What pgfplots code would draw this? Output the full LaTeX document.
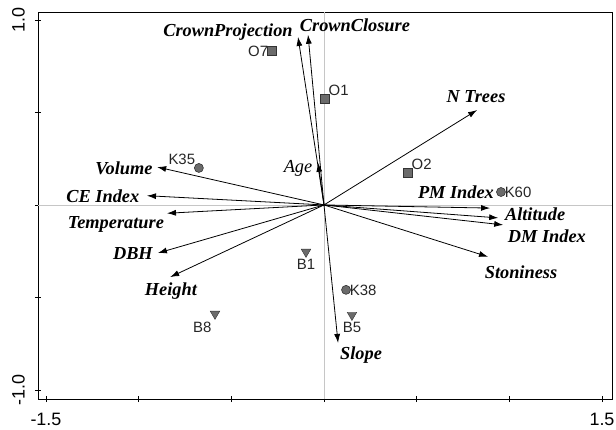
\documentclass[border=0pt]{standalone}
\usepackage{fontspec}
\setmainfont{Liberation Sans}
\newfontfamily\serifbi{Liberation Serif}
\usepackage{pgfplots}
\pgfplotsset{compat=1.18}
\usetikzlibrary{arrows.meta}

\newcommand{\vl}[1]{{\fontsize{18.4}{18.4}\selectfont\serifbi\bfseries\itshape #1}}

\pgfplotsset{
  vec/.style={black, line width=0.8pt, -{Latex[length=9bp,width=6bp]}},
  smp/.style={only marks, mark size=4.3bp,
    mark options={fill=black!58, draw=black!80, line width=0.6pt},
    nodes near coords, point meta=explicit symbolic,
    every node near coord/.append style={anchor=#1, font=\fontsize{15}{15}\selectfont, inner sep=3.5pt, text=black!85}},
  sq/.style={smp=#1, mark=square*, mark size=4.3bp},
  ci/.style={smp=#1, mark=*, mark size=4.5bp},
  tr/.style={smp=#1, mark=triangle*, mark size=5.5bp, mark options={rotate=180, fill=black!58, draw=black!80},
    every node near coord/.append style={yshift=-4bp}},
}

\begin{document}
\begin{tikzpicture}
\begin{axis}[
  scale only axis,
  width=574bp, height=387bp,
  xmin=-1.543, xmax=1.554, ymin=-1.049, ymax=1.043,
  axis line style={black, line width=0.9pt},
  tick pos=left,
  tick align=center,
  major tick length=6bp,
  tick style={black, line width=0.8pt},
  xtick={-1.5,-1,-0.5,0,0.5,1,1.5},
  xticklabels={-1.5,,,,,,1.5},
  ytick={-1,-0.5,0,0.5,1},
  yticklabels={-1.0,,,,1.0},
  /pgf/number format/assume math mode=true,
  ticklabel style={font=\fontsize{18}{18}\selectfont, inner sep=1bp},
  yticklabel style={rotate=90, anchor=south},
  yticklabel shift=9bp,
  xticklabel shift=9.5bp,
  clip=false,
]
\addplot[gray!45, line width=0.6pt] coordinates {(0,-1.049) (0,1.043)};
\addplot[gray!45, line width=0.6pt] coordinates {(-1.543,0) (1.554,0)};

% environmental vectors
\addplot[vec] coordinates {(0,0) (-0.140,0.908)};
\addplot[vec] coordinates {(0,0) (-0.086,0.920)};
\addplot[vec] coordinates {(0,0) (-0.032,0.228)};
\addplot[vec] coordinates {(0,0) (-0.900,0.205)};
\addplot[vec] coordinates {(0,0) (-0.955,0.050)};
\addplot[vec] coordinates {(0,0) (-0.847,-0.045)};
\addplot[vec] coordinates {(0,0) (-0.896,-0.260)};
\addplot[vec] coordinates {(0,0) (-0.830,-0.390)};
\addplot[vec] coordinates {(0,0) (0.826,0.513)};
\addplot[vec] coordinates {(0,0) (0.896,-0.017)};
\addplot[vec] coordinates {(0,0) (0.940,-0.070)};
\addplot[vec] coordinates {(0,0) (0.967,-0.108)};
\addplot[vec] coordinates {(0,0) (0.885,-0.280)};
\addplot[vec] coordinates {(0,0) (0.076,-0.746)};

% samples
\addplot[sq=east] coordinates {(-0.281,0.832) [O7]};
\addplot[sq=south west] coordinates {(0.005,0.573) [O1]};
\addplot[sq=south west] coordinates {(0.453,0.173) [O2]};
\addplot[ci=west] coordinates {(0.955,0.070) [K60]};
\addplot[ci=south east] coordinates {(-0.675,0.200) [K35]};
\addplot[ci=west] coordinates {(0.119,-0.459) [K38]};
\addplot[tr=north] coordinates {(-0.097,-0.254) [B1]};
\addplot[tr=north east] coordinates {(-0.588,-0.589) [B8]};
\addplot[tr=north] coordinates {(0.151,-0.595) [B5]};

\node at (axis cs:-0.518,0.935) {\vl{CrownProjection}};
\node at (axis cs:0.167,0.973) {\vl{CrownClosure}};
\node at (axis cs:-0.14,0.20) {\fontsize{18.4}{18.4}\selectfont\serifbi\itshape Age};
\node at (axis cs:-1.079,0.20) {\vl{Volume}};
\node at (axis cs:-1.193,0.049) {\vl{CE Index}};
\node at (axis cs:-1.123,-0.108) {\vl{Temperature}};
\node at (axis cs:-1.031,-0.265) {\vl{DBH}};
\node at (axis cs:-0.826,-0.465) {\vl{Height}};
\node at (axis cs:0.82,0.584) {\vl{N Trees}};
\node at (axis cs:0.712,0.07) {\vl{PM Index}};
\node at (axis cs:1.139,-0.049) {\vl{Altitude}};
\node at (axis cs:1.203,-0.168) {\vl{DM Index}};
\node at (axis cs:1.063,-0.362) {\vl{Stoniness}};
\node at (axis cs:0.20,-0.811) {\vl{Slope}};
\end{axis}
\pgfresetboundingbox
\useasboundingbox ([shift={(-38bp,-31bp)}]current axis.south west) rectangle ([shift={(4bp,12bp)}]current axis.north east);
\end{tikzpicture}
\end{document}
